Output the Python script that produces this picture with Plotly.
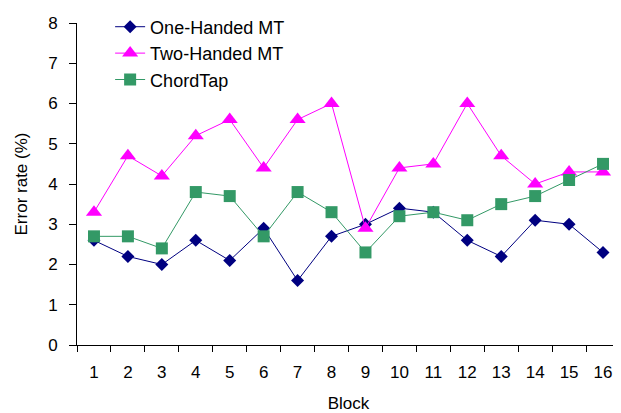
import plotly.graph_objects as go

blocks = [str(i) for i in range(1, 17)]
one_handed = [2.6, 2.2, 2.0, 2.6, 2.1, 2.9, 1.6, 2.7, 3.0, 3.4, 3.3, 2.6, 2.2, 3.1, 3.0, 2.3]
two_handed = [3.3, 4.7, 4.2, 5.2, 5.6, 4.4, 5.6, 6.0, 2.9, 4.4, 4.5, 6.0, 4.7, 4.0, 4.3, 4.3]
chordtap = [2.7, 2.7, 2.4, 3.8, 3.7, 2.7, 3.8, 3.3, 2.3, 3.2, 3.3, 3.1, 3.5, 3.7, 4.1, 4.5]
y_ticks = [0, 1, 2, 3, 4, 5, 6, 7, 8]

FONT = "Liberation Sans, Arial, sans-serif"

fig = go.Figure()
fig.add_trace(go.Scatter(x=blocks, y=one_handed, name="One-Handed MT", mode="lines+markers",
                         line=dict(color="#000080", width=1),
                         marker=dict(symbol="diamond", size=10, color="#000080")))
fig.add_trace(go.Scatter(x=blocks, y=two_handed, name="Two-Handed MT", mode="lines+markers",
                         line=dict(color="#FF00FF", width=1),
                         marker=dict(symbol="triangle-up", size=14, color="#FF00FF")))
fig.add_trace(go.Scatter(x=blocks, y=chordtap, name="ChordTap", mode="lines+markers",
                         line=dict(color="#339966", width=1),
                         marker=dict(symbol="square", size=12, color="#339966")))

# page body has an 8px default margin; figure is sized to compensate
fig.update_layout(
    width=613, height=405,
    margin=dict(l=69, r=1, t=5, b=68),
    paper_bgcolor="white", plot_bgcolor="white",
    font=dict(family=FONT, size=17, color="black"),
    legend=dict(x=0.061, y=1.045, xanchor="left", yanchor="top",
                font=dict(size=18), bgcolor="rgba(0,0,0,0)", tracegroupgap=0),
    xaxis=dict(type="category", range=[-0.5, 15.5], tickson="boundaries",
               ticks="outside", ticklen=6,
               tickcolor="black", showline=True, linecolor="black", linewidth=1,
               showgrid=False, zeroline=False, ticklabelstandoff=12, automargin=False,
               title=dict(text="Block", standoff=15, font=dict(size=17))),
    yaxis=dict(range=[0, 8], tickvals=y_ticks, ticks="outside", ticklen=7,
               tickcolor="black", showline=True, linecolor="black", linewidth=1,
               showgrid=False, zeroline=False, automargin=False, ticklabelstandoff=8,
               title=dict(text="Error rate (%)", standoff=16, font=dict(size=17))),
)

fig.write_html("out.html")
